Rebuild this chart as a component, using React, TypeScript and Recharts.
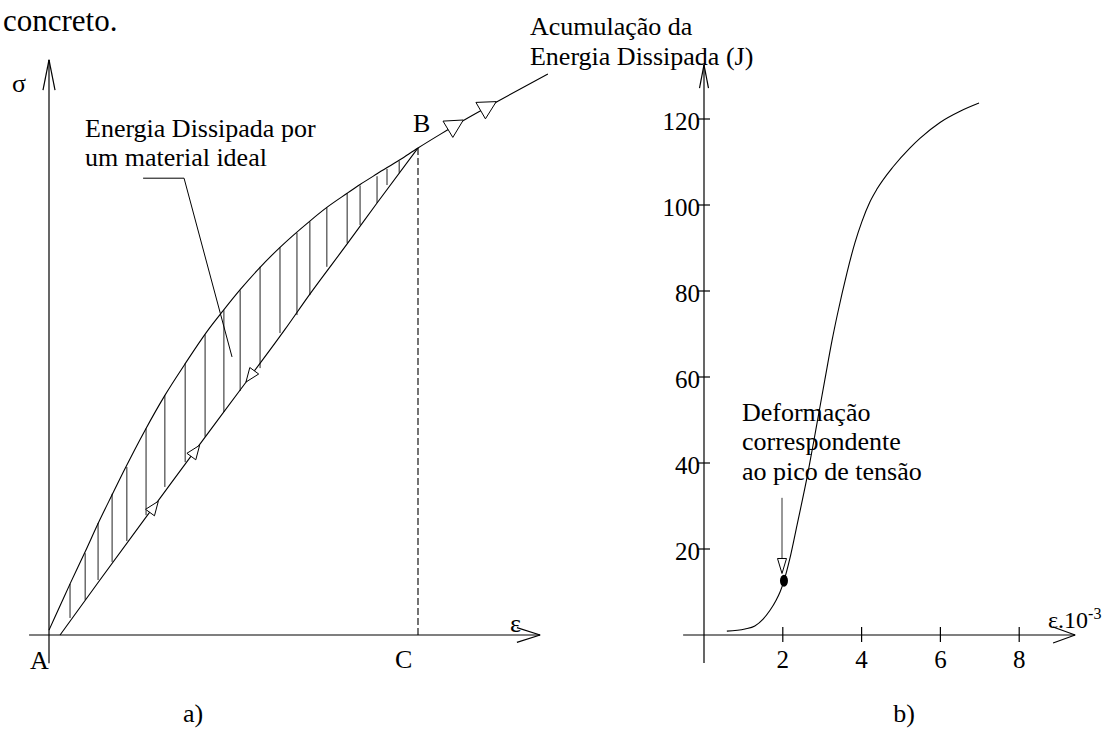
import React from 'react';
import { ComposedChart, Line, XAxis, YAxis, ReferenceLine, ReferenceDot, Scatter } from 'recharts';

const W = 1109;
const H = 731;
const FONT = "'Liberation Serif', 'Times New Roman', Times, serif";

// ---------- Panel a): stress-strain (arbitrary units, B = (10, 10)) ----------
const loadingEps = [0, 0.30, 0.57, 0.98, 1.33, 1.71, 2.01, 2.60, 3.14, 3.69, 4.28, 4.72, 5.18, 5.72, 6.26, 7.07, 7.53, 8.08, 8.43, 8.89, 9.51, 10, 10.60, 11.22, 12.14, 13.52];
const loadingSig = [0.10, 0.60, 1.05, 1.71, 2.29, 2.88, 3.34, 4.20, 4.92, 5.57, 6.23, 6.66, 7.09, 7.55, 7.96, 8.50, 8.78, 9.07, 9.25, 9.47, 9.76, 10, 10.28, 10.56, 10.95, 11.52];
const unloadEps = [0.30, 1.38, 3.01, 4.09, 5.18, 6.40, 7.07, 8.08, 8.89, 10];
const unloadSig = [0, 1.13, 2.81, 3.92, 5.03, 6.28, 7.00, 8.03, 8.87, 10];
const hatchEps = [0.57, 0.98, 1.33, 1.71, 2.11, 2.63, 3.14, 3.69, 4.23, 4.74, 5.18, 5.72, 6.26, 6.72, 7.07, 7.53, 8.08, 8.43, 8.89, 9.16, 9.49];
const hatchLow = [0.35, 0.72, 1.13, 1.50, 1.93, 2.46, 3.04, 3.55, 4.07, 4.58, 5.01, 5.48, 6.20, 6.57, 6.98, 7.56, 8.05, 8.42, 8.87, 9.24, 9.49];
const hatchHigh = [1.05, 1.68, 2.30, 2.90, 3.45, 4.24, 4.92, 5.58, 6.17, 6.67, 7.08, 7.56, 7.96, 8.26, 8.49, 8.78, 9.07, 9.23, 9.42, 9.57, 9.73];
const pointB = { x: 10, y: 10 };
const arrowLowEps = [2.85, 3.97, 5.45];
const arrowLowSig = [2.63, 3.78, 5.31];
const arrowLowAngle = [-53.7, -53.7, 126.3];
const arrowUpEps = [11.02, 11.91];
const arrowUpSig = [10.48, 10.86];
const arrowUpAngle = [-31, -30];
const leaderEps = [2.55, 3.66, 4.96];
const leaderSig = [9.38, 9.38, 5.71];

// ---------- Panel b): accumulated dissipated energy ----------
const energyEps = [0.58, 1.04, 1.29, 1.50, 1.68, 1.83, 1.93, 2.03, 2.18, 2.36, 2.64, 2.84, 3.07, 3.25, 3.38, 3.63, 3.83, 4.01, 4.21, 4.39, 4.80, 5.23, 5.48, 5.99, 6.50, 6.98];
const energyVal = [0.9, 1.4, 2.1, 3.7, 5.8, 8.1, 10.0, 12.6, 17.8, 25.5, 37.8, 47.8, 59.5, 68.5, 74.3, 84.3, 91.2, 96.2, 100.7, 103.7, 108.9, 113.3, 115.5, 119.2, 121.8, 123.7];
const xTicks = [2, 4, 6, 8];
const yTicks = [20, 40, 60, 80, 100, 120];
const peakEps = [2.03];
const peakVal = [12.6];

// ---------- layout (left chart uses hidden axes over the full page) ----------
const LX0 = 49, LY0 = 635, LSX = 36.9, LSY = 48.7;
const leftXDomain = [-LX0 / LSX, (W - LX0) / LSX];
const leftYDomain = [-(H - LY0) / LSY, LY0 / LSY];

const loadingData = loadingEps.map((x, i) => ({ x, y: loadingSig[i] }));
const unloadData = unloadEps.map((x, i) => ({ x, y: unloadSig[i] }));
const energyData = energyEps.map((x, i) => ({ x, y: energyVal[i] }));
const peakData = peakEps.map((x, i) => ({ x, y: peakVal[i] }));

const textShape = (lines: string[], size: number, anchor: string = 'start', lh: number = 29.5) => (p: any) => (
  <text x={p.cx} y={p.cy} fontFamily={FONT} fontSize={size} textAnchor={anchor} fill="#000">
    {lines.map((l, i) => (
      <tspan key={i} x={p.cx} dy={i === 0 ? 0 : lh}>{l}</tspan>
    ))}
  </text>
);

const arrowShape = (angle: number, len: number, hw: number) => (p: any) => {
  const a = (angle * Math.PI) / 180;
  const dx = Math.cos(a);
  const dy = Math.sin(a);
  const tx = p.cx + (dx * len) / 2, ty = p.cy + (dy * len) / 2;
  const bx = p.cx - (dx * len) / 2, by = p.cy - (dy * len) / 2;
  const pts = `${tx},${ty} ${bx - dy * hw},${by + dx * hw} ${bx + dy * hw},${by - dx * hw}`;
  return <polygon points={pts} fill="#fff" stroke="#000" strokeWidth={1} />;
};

const seg = (x1: number, y1: number, x2: number, y2: number, key: string, extra: any = {}) => (
  <ReferenceLine
    key={key}
    segment={[{ x: x1, y: y1 }, { x: x2, y: y2 }]}
    stroke="#000"
    strokeWidth={1.2}
    ifOverflow="visible"
    {...extra}
  />
);

function LeftPanel() {
  return (
    <ComposedChart width={W} height={H} margin={{ top: 0, right: 0, bottom: 0, left: 0 }}>
      <XAxis type="number" dataKey="x" domain={leftXDomain} hide />
      <YAxis type="number" dataKey="y" domain={leftYDomain} hide />
      {/* axes */}
      {seg(-0.54, 0, 13.31, 0, 'xax')}
      {seg(12.68, 0.15, 13.31, 0, 'xa1')}
      {seg(12.68, -0.15, 13.31, 0, 'xa2')}
      {seg(0, -0.58, 0, 11.81, 'yax')}
      {seg(-0.163, 11.19, 0, 11.81, 'ya1')}
      {seg(0.163, 11.19, 0, 11.81, 'ya2')}
      {/* hatching */}
      {hatchEps.map((x, i) => seg(x, hatchLow[i], x, hatchHigh[i], 'h' + i, { stroke: '#222', strokeWidth: 1 }))}
      {/* B - C dashed */}
      {seg(pointB.x, 0, pointB.x, pointB.y, 'bc', { strokeDasharray: '7 3', strokeWidth: 1.1 })}
      {/* leader */}
      {seg(leaderEps[0], leaderSig[0], leaderEps[1], leaderSig[1], 'ld1', { strokeWidth: 1 })}
      {seg(leaderEps[1], leaderSig[1], leaderEps[2], leaderSig[2], 'ld2', { strokeWidth: 1 })}
      <Line data={loadingData} dataKey="y" type="monotone" stroke="#000" strokeWidth={1.1} dot={false} activeDot={false} isAnimationActive={false} />
      <Line data={unloadData} dataKey="y" type="monotone" stroke="#000" strokeWidth={1.1} dot={false} activeDot={false} isAnimationActive={false} />
      {arrowLowEps.map((x, i) => (
        <ReferenceDot key={'al' + i} x={x} y={arrowLowSig[i]} r={1} ifOverflow="visible" shape={arrowShape(arrowLowAngle[i], 14, 5.5)} />
      ))}
      {arrowUpEps.map((x, i) => (
        <ReferenceDot key={'au' + i} x={x} y={arrowUpSig[i]} r={1} ifOverflow="visible" shape={arrowShape(arrowUpAngle[i], 18, 9.5)} />
      ))}
      {/* texts */}
      <ReferenceDot x={-1.247} y={12.4} r={1} ifOverflow="visible" shape={textShape(['concreto.'], 31)} />
      <ReferenceDot x={-1.0} y={11.15} r={1} ifOverflow="visible" shape={textShape(['σ'], 26)} />
      <ReferenceDot x={12.49} y={0.06} r={1} ifOverflow="visible" shape={textShape(['ε'], 26)} />
      <ReferenceDot x={0.976} y={10.23} r={1} ifOverflow="visible" shape={textShape(['Energia Dissipada por', 'um material ideal'], 26)} />
      <ReferenceDot x={9.864} y={10.33} r={1} ifOverflow="visible" shape={textShape(['B'], 26)} />
      <ReferenceDot x={-0.515} y={-0.698} r={1} ifOverflow="visible" shape={textShape(['A'], 26)} />
      <ReferenceDot x={9.377} y={-0.678} r={1} ifOverflow="visible" shape={textShape(['C'], 26)} />
      <ReferenceDot x={3.902} y={-1.786} r={1} ifOverflow="visible" shape={textShape(['a)'], 26, 'middle')} />
      <ReferenceDot x={13.035} y={12.32} r={1} ifOverflow="visible" shape={textShape(['Acumulação da', 'Energia Dissipada (J)'], 26, 'start', 30)} />
    </ComposedChart>
  );
}

const XTick = (p: any) => (
  <g>
    <line x1={p.x} x2={p.x} y1={p.y - 8} y2={p.y + 7} stroke="#000" strokeWidth={1.2} />
    <text x={p.x} y={p.y + 33} textAnchor="middle" fontFamily={FONT} fontSize={25} fill="#000">{p.payload.value}</text>
  </g>
);

const YTick = (p: any) => (
  <g>
    <line x1={p.x - 6} x2={p.x + 6} y1={p.y} y2={p.y} stroke="#000" strokeWidth={1.2} />
    <text x={p.x - 4} y={p.y + 11} textAnchor="end" fontFamily={FONT} fontSize={25} fill="#000">{p.payload.value}</text>
  </g>
);

const epsLabel = (p: any) => (
  <text x={p.cx} y={p.cy} fontFamily={FONT} fontSize={24} fill="#000">
    ε.10<tspan fontSize={16} dy={-9}>-3</tspan>
  </text>
);

function RightPanel() {
  return (
    <ComposedChart width={W} height={H} margin={{ top: 33, right: 11, bottom: 0, left: 0 }}>
      <XAxis type="number" dataKey="x" domain={[0, 10]} ticks={xTicks} interval={0} height={96} axisLine={false} tickLine={false} tickSize={0} tickMargin={0} tick={XTick} />
      <YAxis type="number" dataKey="y" domain={[0, 140]} ticks={yTicks} interval={0} width={704} axisLine={false} tickLine={false} tickSize={0} tickMargin={0} tick={YTick} />
      {seg(-0.53, 0, 9.42, 0, 'rx')}
      {seg(8.86, 1.86, 9.42, 0, 'rx1')}
      {seg(8.86, -1.86, 9.42, 0, 'rx2')}
      {seg(0, -6.5, 0, 132.6, 'ry')}
      {seg(-0.114, 127.2, 0, 132.6, 'ry1')}
      {seg(0.114, 127.2, 0, 132.6, 'ry2')}
      <Line data={energyData} dataKey="y" type="monotone" stroke="#000" strokeWidth={1.1} dot={false} activeDot={false} isAnimationActive={false} />
      {seg(1.98, 31.9, 1.98, 17.9, 'ann', { strokeWidth: 1, stroke: '#333' })}
      <ReferenceDot x={1.98} y={16.05} r={1} ifOverflow="visible" shape={arrowShape(90, 15, 4.5)} />
      <Scatter data={peakData} dataKey="y" isAnimationActive={false} shape={(p: any) => <ellipse cx={p.cx} cy={p.cy} rx={4} ry={6} fill="#000" />} />
      <ReferenceDot x={0.964} y={49.77} r={1} ifOverflow="visible" shape={textShape(['Deformação', 'correspondente', 'ao pico de tensão'], 26)} />
      <ReferenceDot x={8.731} y={1.63} r={1} ifOverflow="visible" shape={epsLabel} />
      <ReferenceDot x={5.076} y={-20.2} r={1} ifOverflow="visible" shape={textShape(['b)'], 26, 'middle')} />
    </ComposedChart>
  );
}

export default function App() {
  return (
    <div style={{ position: 'absolute', left: 0, top: 0, width: W, height: H, background: '#fff', overflow: 'hidden' }}>
      <div style={{ position: 'absolute', left: 0, top: 0 }}>
        <LeftPanel />
      </div>
      <div style={{ position: 'absolute', left: 0, top: 0 }}>
        <RightPanel />
      </div>
    </div>
  );
}
